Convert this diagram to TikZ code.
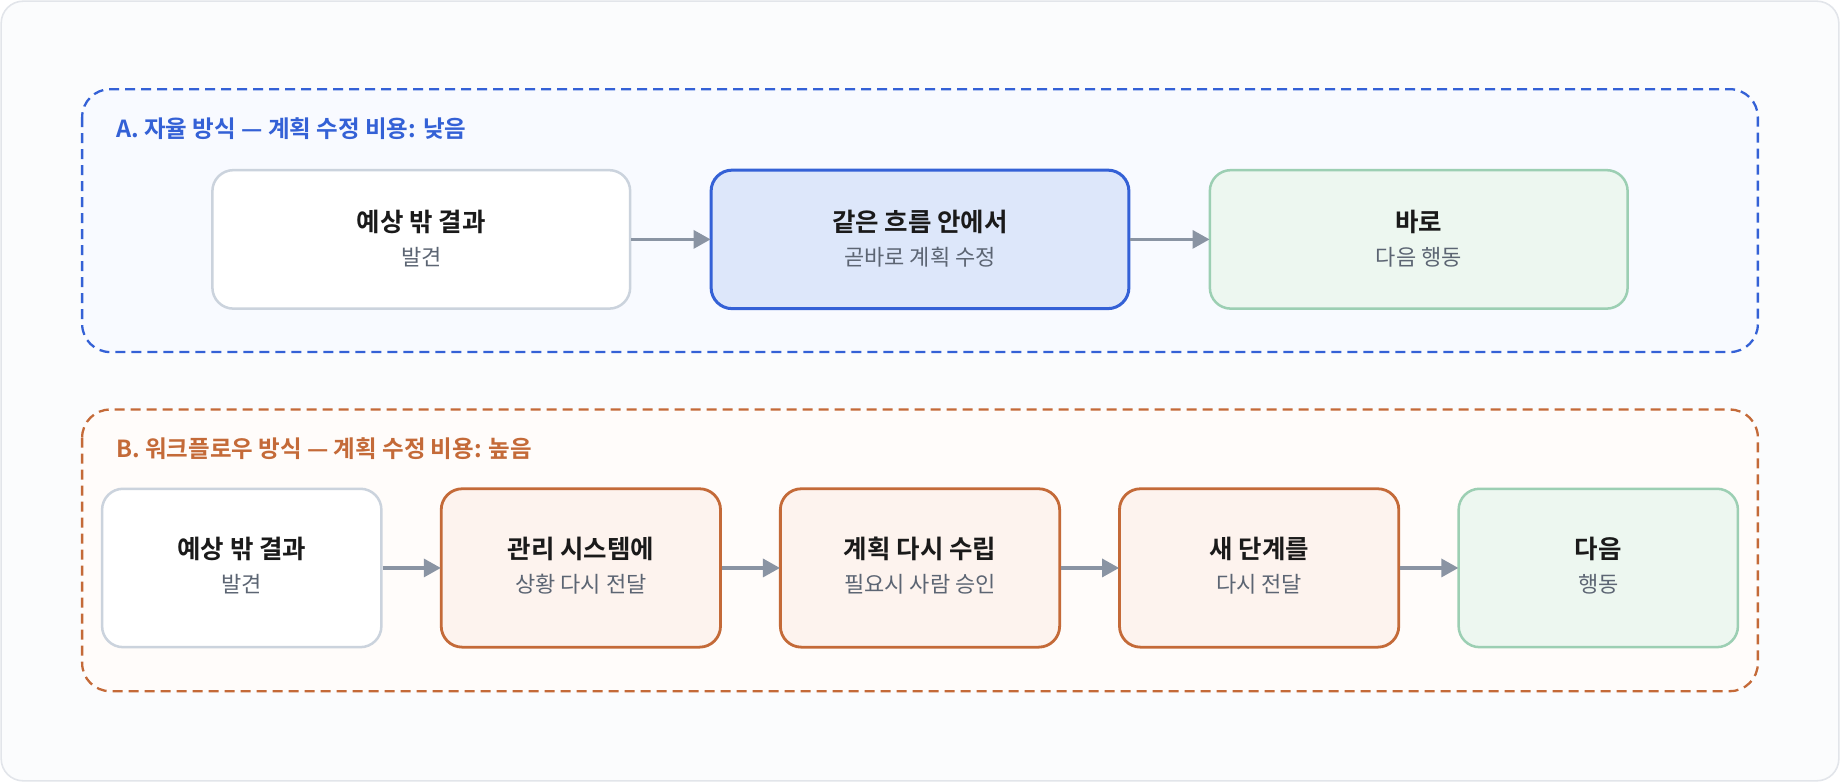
\documentclass[tikz,border=0pt]{standalone}
\usepackage{fontspec}
\setmainfont{Noto Sans CJK KR}
\newfontfamily\krb{Noto Sans CJK KR Bold}
\usetikzlibrary{arrows.meta}
\definecolor{cardbg}{HTML}{FBFCFD}
\definecolor{cardline}{HTML}{E2E5EA}
\definecolor{blueA}{HTML}{3461D6}
\definecolor{blueFill}{HTML}{F8FAFF}
\definecolor{blueBox}{HTML}{DDE7FA}
\definecolor{orB}{HTML}{C46A38}
\definecolor{orFill}{HTML}{FFFCFA}
\definecolor{orBox}{HTML}{FDF3EE}
\definecolor{grayLine}{HTML}{CBD3DD}
\definecolor{grnLine}{HTML}{9CCFB3}
\definecolor{grnBox}{HTML}{EDF7F0}
\definecolor{arr}{HTML}{8A94A3}
\definecolor{ttl}{HTML}{1A1A1A}
\definecolor{sub}{HTML}{5C6573}
\tikzset{
  sect/.style={draw, dash pattern=on 10pt off 6pt, line width=2.3pt, rounded corners=28pt},
  boxbase/.style={rounded corners=21pt, line width=2.5pt, inner sep=0pt},
  abox/.style={minimum width=417.8pt, minimum height=138.5pt},
  bbox/.style={minimum width=279.3pt, minimum height=158.4pt},
  neutral/.style={boxbase, draw=grayLine, fill=white},
  bluebox/.style={boxbase, draw=blueA, fill=blueBox, line width=3pt},
  orbox/.style={boxbase, draw=orB, fill=orBox, line width=2.8pt},
  grnbox/.style={boxbase, draw=grnLine, fill=grnBox},
  ttext/.style={font=\fontsize{25.5}{30}\krb, text=ttl},
  stext/.style={font=\fontsize{22}{26}\selectfont, text=sub},
  sectitle/.style={anchor=west, font=\fontsize{23.5}{28}\krb},
  conn/.style={draw=arr, line width=3.3pt, -{Triangle[length=17pt,width=18pt]}, shorten >=-1pt},
}
\begin{document}
\begin{tikzpicture}[x=1.1735pt, y=-1.1735pt]
\useasboundingbox (0,0) rectangle (1568,666.4);
\draw[draw=cardline, fill=cardbg, line width=1.6pt, rounded corners=22pt] (1,1) rectangle (1567,665.4);
% Section A
\draw[sect, draw=blueA, fill=blueFill] (70,76) rectangle (1498,300);
\node[sectitle, text=blueA] (tA) at (96,110) {A. 자율 방식 — 계획 수정 비용: 낮음};
% Section B
\draw[sect, draw=orB, fill=orFill] (70,349) rectangle (1498,589);
\node[sectitle, text=orB] (tB) at (96,382) {B. 워크플로우 방식 — 계획 수정 비용: 높음};
% A boxes
\node[neutral, abox] (a1) at (359,204) {};
\node[bluebox, abox] (a2) at (784,204) {};
\node[grnbox, abox] (a3) at (1209,204) {};
\node[ttext] (a1t) at (359,189) {예상 밖 결과};
\node[stext] (a1s) at (359,219) {발견};
\node[ttext] (a2t) at (784,189) {같은 흐름 안에서};
\node[stext] (a2s) at (784,219) {곧바로 계획 수정};
\node[ttext] (a3t) at (1209,189) {바로};
\node[stext] (a3s) at (1209,219) {다음 행동};
\draw[conn] (a1.east) -- (a2.west);
\draw[conn] (a2.east) -- (a3.west);
% B boxes
\node[neutral, bbox] (b1) at (206,484) {};
\node[orbox, bbox] (b2) at (495,484) {};
\node[orbox, bbox] (b3) at (784,484) {};
\node[orbox, bbox] (b4) at (1073,484) {};
\node[grnbox, bbox] (b5) at (1362,484) {};
\node[ttext] (b1t) at (206,468) {예상 밖 결과};
\node[stext] (b1s) at (206,498) {발견};
\node[ttext] (b2t) at (495,468) {관리 시스템에};
\node[stext] (b2s) at (495,498) {상황 다시 전달};
\node[ttext] (b3t) at (784,468) {계획 다시 수립};
\node[stext] (b3s) at (784,498) {필요시 사람 승인};
\node[ttext] (b4t) at (1073,468) {새 단계를};
\node[stext] (b4s) at (1073,498) {다시 전달};
\node[ttext] (b5t) at (1362,468) {다음};
\node[stext] (b5s) at (1362,498) {행동};
\draw[conn] (b1.east) -- (b2.west);
\draw[conn] (b2.east) -- (b3.west);
\draw[conn] (b3.east) -- (b4.west);
\draw[conn] (b4.east) -- (b5.west);
\end{tikzpicture}
\end{document}
